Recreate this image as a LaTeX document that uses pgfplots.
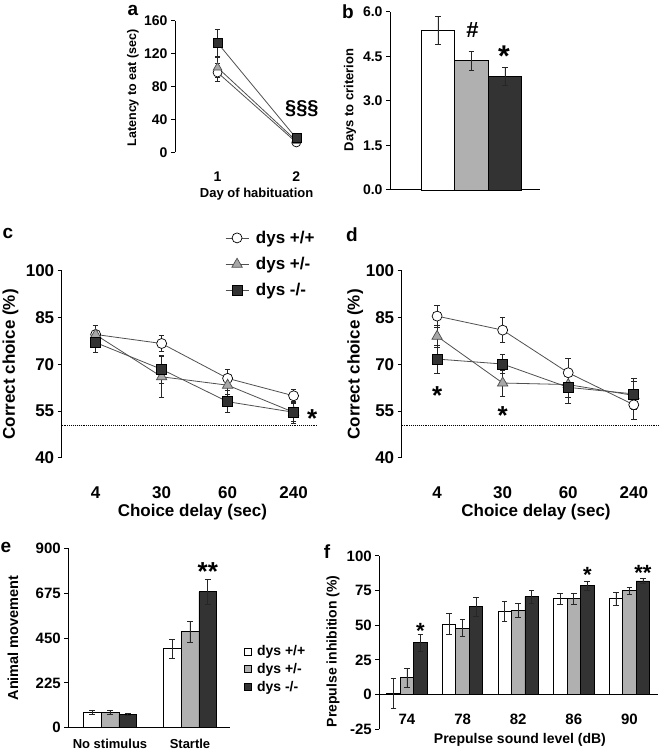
\documentclass[border=0pt]{standalone}
\usepackage{pgfplots}
\pgfplotsset{compat=1.18}
\usepackage{fontspec}
\setmainfont{Liberation Sans}
\newcommand\fs[1]{\fontsize{#1}{#1}\selectfont\bfseries}
\definecolor{barblack}{HTML}{333333}
\definecolor{bargray}{HTML}{B0B0B0}
\definecolor{trigray}{HTML}{A8A8A8}
\definecolor{linegray}{HTML}{505050}
\pgfplotsset{
  panel/.style={scale only axis, clip=false, axis lines*=left, tick align=outside,
    major tick length=4pt, axis line style={line width=1pt,black},
    every tick/.append style={line width=1pt,black},
    /pgf/number format/assume math mode=true, xtick style={draw=none}},
  noxline/.style={x axis line style={draw=none}},
  ebar/.style={error bars/.cd, y dir=both, y explicit,
    error bar style={line width=0.6pt,black!85},
    error mark options={rotate=90, mark size=2.8pt, line width=0.6pt,black!85}},
  wt/.style={linegray, line width=0.8pt, mark=*, mark size=5pt, mark options={fill=white, draw=black, line width=0.7pt}},
  tr/.style={linegray, line width=0.8pt, mark=triangle*, mark size=6pt, mark options={fill=trigray, draw=black!70, line width=0.7pt}},
  sq/.style={linegray, line width=0.8pt, mark=square*, mark size=5pt, mark options={fill=barblack, draw=black, line width=0.7pt}},
  barw/.style={fill=white, draw=black, line width=0.7pt},
  barg/.style={fill=bargray, draw=black, line width=0.7pt},
  barb/.style={fill=barblack, draw=black, line width=0.7pt},
}
\begin{document}
\begin{tikzpicture}
\useasboundingbox (0pt,0pt) rectangle (660pt,752pt);

% panel letters
\node[font=\fs{19}] at (133pt,742pt) {a};
\node[font=\fs{19}] at (348pt,740pt) {b};
\node[font=\fs{19}] at (8pt,519pt) {c};
\node[font=\fs{19}] at (352pt,517pt) {d};
\node[font=\fs{19}] at (6pt,205pt) {e};
\node[font=\fs{19}] at (327pt,200pt) {f};

% ---------- a ----------
\begin{axis}[panel, noxline, at={(175pt,599.7pt)}, anchor=south west, width=145pt, height=131.6pt,
  xmin=0.46, xmax=2.3, ymin=0, ymax=160, ytick={0,40,80,120,160}, xtick={1,2},
  tick label style={font=\fs{14}}, xticklabel style={anchor=center, yshift=-20pt},
  xlabel={Day of habituation}, xlabel style={font=\fs{13}, at={(axis description cs:0.563,-0.32)}, anchor=center},
  ylabel={Latency to eat (sec)}, ylabel style={font=\fs{12.5}, at={(axis description cs:-0.29,0.489)}, anchor=center}]
\addplot[wt, mark size=4.5pt, ebar] coordinates {(1,97) +- (0,11) (2,12) +- (0,2)};
\addplot[tr, mark size=5pt, ebar] coordinates {(1,103) +- (0,12) (2,14) +- (0,2)};
\addplot[sq, mark size=4.5pt, ebar] coordinates {(1,133) +- (0,16) (2,17) +- (0,3)};
\node[font=\fs{20}] at (axis cs:2.07,53) {§§§};
\end{axis}

% ---------- b ----------
\begin{axis}[panel, at={(390pt,562pt)}, anchor=south west, width=150pt, height=178.3pt,
  xmin=-1.43, xmax=3.05, ymin=0, ymax=6, ytick={0,1.5,3,4.5,6}, xtick=\empty,
  yticklabel style={font=\fs{14}, /pgf/number format/.cd, fixed, fixed zerofill, precision=1},
  ylabel={Days to criterion}, ylabel style={font=\fs{13}, at={(axis description cs:-0.267,0.505)}, anchor=center}]
\addplot[ybar, bar width=33.5pt, bar shift=0pt, barw, ebar] coordinates {(0,5.37) +- (0,0.46)};
\addplot[ybar, bar width=33.5pt, bar shift=0pt, barg, ebar] coordinates {(1,4.35) +- (0,0.33)};
\addplot[ybar, bar width=33.5pt, bar shift=0pt, barb, ebar] coordinates {(2,3.83) +- (0,0.31)};
\node[font=\fs{22}] at (axis cs:1.03,5.38) {\#};
\node[font=\fs{30}] at (axis cs:1.97,4.5) {*};
\end{axis}

% ---------- c ----------
\begin{axis}[panel, noxline, at={(61.7pt,294.3pt)}, anchor=south west, width=256.3pt, height=186.7pt,
  xmin=-0.515, xmax=3.37, ymin=40, ymax=100, ytick={40,55,70,85,100},
  xtick={0,1,2,3}, xticklabels={4,30,60,240},
  tick label style={font=\fs{17}}, xticklabel style={anchor=center, yshift=-31pt},
  xlabel={Choice delay (sec)}, xlabel style={font=\fs{17}, at={(axis description cs:0.51,-0.29)}, anchor=center},
  ylabel={Correct choice (\%)}, ylabel style={font=\fs{17}, at={(axis description cs:-0.2,0.5)}, anchor=center},
  legend style={draw=none, fill=none, at={(axis description cs:0.637,1.226)}, anchor=north west,
    font=\fs{17}, row sep=8.5pt, inner sep=0pt, column sep=2pt},
  legend cell align=left,
  legend image code/.code={\draw[mark repeat=2, mark phase=2, #1] plot coordinates {(0pt,0pt) (11.5pt,0pt) (23pt,0pt)}; \path (26pt,0pt);}]
\addplot[black, densely dotted, line width=0.9pt, forget plot] coordinates {(-0.515,50.5) (3.37,50.5)};
\addplot[wt, ebar] coordinates {(0,79.6) +- (0,3) (1,76.7) +- (0,2.5) (2,65.5) +- (0,3) (3,59.9) +- (0,2)};
\addplot[tr, ebar] coordinates {(0,79.5) +- (0,3) (1,66) +- (0,6.5) (2,63.3) +- (0,3) (3,54.6) +- (0,3)};
\addplot[sq, ebar] coordinates {(0,77) +- (0,3) (1,68.4) +- (0,4.5) (2,58) +- (0,3.5) (3,54.6) +- (0,3.5)};
\legend{dys +/+, dys +/-, dys -/-}
\node[font=\fs{26}] at (axis cs:3.28,52.5) {*};
\end{axis}

% ---------- d ----------
\begin{axis}[panel, noxline, at={(401.7pt,294.3pt)}, anchor=south west, width=258.3pt, height=186.7pt,
  xmin=-0.54, xmax=3.40, ymin=40, ymax=100, ytick={40,55,70,85,100},
  xtick={0,1,2,3}, xticklabels={4,30,60,240},
  tick label style={font=\fs{17}}, xticklabel style={anchor=center, yshift=-31pt},
  xlabel={Choice delay (sec)}, xlabel style={font=\fs{17}, at={(axis description cs:0.52,-0.29)}, anchor=center},
  ylabel={Correct choice (\%)}, ylabel style={font=\fs{17}, at={(axis description cs:-0.18,0.5)}, anchor=center}]
\addplot[black, densely dotted, line width=0.9pt] coordinates {(-0.54,50.5) (3.40,50.5)};
\addplot[wt, ebar] coordinates {(0,85.5) +- (0,3.5) (1,81) +- (0,4) (2,67.3) +- (0,4.5) (3,57) +- (0,4.8)};
\addplot[tr, ebar] coordinates {(0,79) +- (0,3.5) (1,64) +- (0,4.2) (2,63.5) +- (0,4) (3,60) +- (0,4.5)};
\addplot[sq, ebar] coordinates {(0,71.7) +- (0,4.5) (1,70.1) +- (0,3) (2,62.6) +- (0,5) (3,60.5) +- (0,5)};
\node[font=\fs{26}] at (axis cs:0,60) {*};
\node[font=\fs{26}] at (axis cs:1,53.4) {*};
\end{axis}

% ---------- e ----------
\begin{axis}[panel, at={(68.3pt,24.3pt)}, anchor=south west, width=161.7pt, height=179.4pt,
  ybar=0pt, bar width=17.8pt,
  xmin=-0.521, xmax=1.5, ymin=0, ymax=900, ytick={0,225,450,675,900},
  xtick={0,1}, xticklabels={No stimulus, Startle},
  yticklabel style={font=\fs{15}}, xticklabel style={font=\fs{13}, anchor=center, yshift=-12.5pt},
  ylabel={Animal movement}, ylabel style={font=\fs{14.5}, at={(axis description cs:-0.342,0.5)}, anchor=center},
  legend style={draw=none, fill=none, at={(axis description cs:1.085,0.47)}, anchor=north west,
    font=\fs{14}, row sep=2pt, inner sep=0pt},
  legend cell align=left,
  legend image code/.code={\draw[#1, line width=0.5pt] (0pt,-3.6pt) rectangle (7.2pt,3.6pt); \path (10.5pt,0pt);}]
\addplot[barw, ebar] coordinates {(0,77) +- (0,8) (1,396) +- (0,47)};
\addplot[barg, ebar] coordinates {(0,78) +- (0,10) (1,482) +- (0,53)};
\addplot[barb, ebar] coordinates {(0,67) +- (0,5) (1,682) +- (0,65)};
\legend{dys +/+, dys +/-, dys -/-}
\node[font=\fs{26}] at (axis cs:1.2225,785) {**};
\end{axis}

% ---------- f ----------
\begin{axis}[panel, axis x line*=middle, axis y line*=left, at={(379.3pt,22.7pt)}, anchor=south west, width=279pt, height=173.3pt,
  ybar=0pt, bar width=13.5pt,
  xmin=-0.498, xmax=4.52, ymin=-25, ymax=100, ytick={-25,0,25,50,75,100},
  xtick={0,1,2,3,4}, xticklabels={74,78,82,86,90},
  yticklabel style={font=\fs{15}}, xticklabel style={font=\fs{15}, anchor=center, yshift=-21pt},
  xlabel={Prepulse sound level (dB)}, xlabel style={font=\fs{14}, at={(axis description cs:0.504,-0.062)}, anchor=center},
  ylabel={Prepulse inhibition (\%)}, ylabel style={font=\fs{14}, at={(axis description cs:-0.166,0.45)}, anchor=center}]
\addplot[barw, ebar] coordinates {(0,1) +- (0,10.5) (1,51) +- (0,7.7) (2,60) +- (0,7) (3,69.2) +- (0,4) (4,69.2) +- (0,4.5)};
\addplot[barg, ebar] coordinates {(0,12.3) +- (0,7) (1,48) +- (0,6) (2,61) +- (0,5) (3,69.2) +- (0,4) (4,75) +- (0,2.5)};
\addplot[barb, ebar] coordinates {(0,37.5) +- (0,6) (1,63.5) +- (0,7) (2,70.7) +- (0,4.5) (3,78.6) +- (0,3.5) (4,82) +- (0,2)};
\node[font=\fs{22}] at (axis cs:0.243,46) {*};
\node[font=\fs{22}] at (axis cs:3.243,86) {*};
\node[font=\fs{22}] at (axis cs:4.243,88) {**};
\end{axis}
\end{tikzpicture}
\end{document}
